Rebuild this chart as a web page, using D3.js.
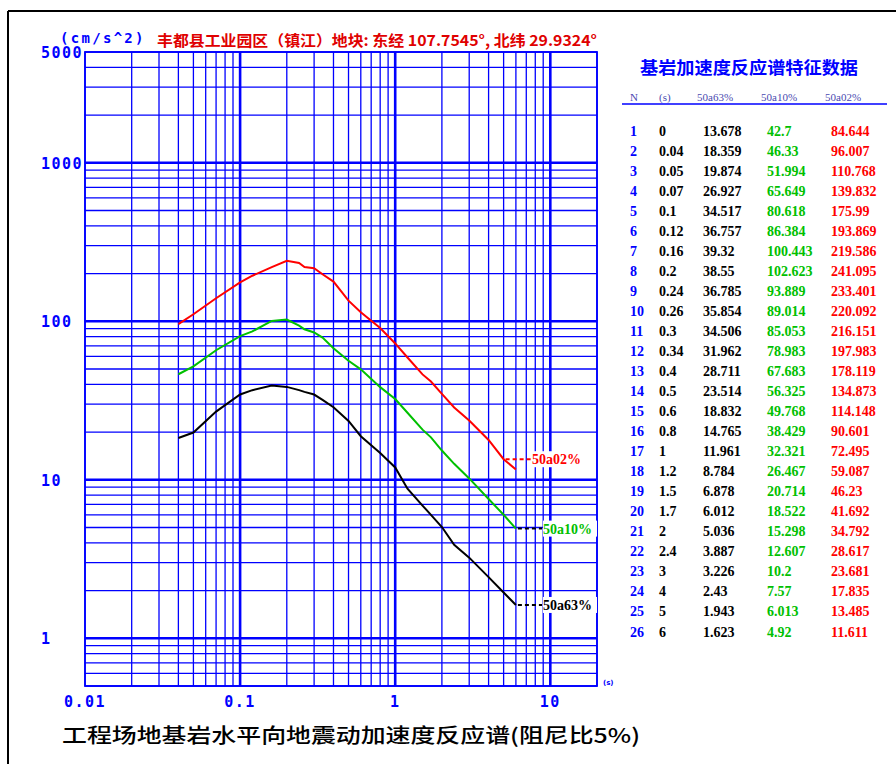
<!DOCTYPE html>
<html><head><meta charset="utf-8">
<script src="https://cdn.jsdelivr.net/npm/d3@7/dist/d3.min.js"></script>
<style>html,body{margin:0;padding:0;background:#fff;}svg{display:block;}</style>
</head><body>
<svg id="chart" width="896" height="764"></svg>
<script>
// ---------------- data ----------------
const rowNo   = [1,2,3,4,5,6,7,8,9,10,11,12,13,14,15,16,17,18,19,20,21,22,23,24,25,26];
const periods = ["0","0.04","0.05","0.07","0.1","0.12","0.16","0.2","0.24","0.26","0.3","0.34","0.4","0.5","0.6","0.8","1","1.2","1.5","1.7","2","2.4","3","4","5","6"];
const a63 = ["13.678","18.359","19.874","26.927","34.517","36.757","39.32","38.55","36.785","35.854","34.506","31.962","28.711","23.514","18.832","14.765","11.961","8.784","6.878","6.012","5.036","3.887","3.226","2.43","1.943","1.623"];
const a10 = ["42.7","46.33","51.994","65.649","80.618","86.384","100.443","102.623","93.889","89.014","85.053","78.983","67.683","56.325","49.768","38.429","32.321","26.467","20.714","18.522","15.298","12.607","10.2","7.57","6.013","4.92"];
const a02 = ["84.644","96.007","110.768","139.832","175.99","193.869","219.586","241.095","233.401","220.092","216.151","197.983","178.119","134.873","114.148","90.601","72.495","59.087","46.23","41.692","34.792","28.617","23.681","17.835","13.485","11.611"];
const seriesNames = ["50a63%","50a10%","50a02%"];
const headerLabels = ["N","(s)","50a63%","50a10%","50a02%"];
const xTickLabels = ["0.01","0.1","1","10"];
const yTickLabels = ["5000","1000","100","10","1"];
const unitLabel = "(cm/s^2)";
const titleText = "丰都县工业园区（镇江）地块: 东经 107.7545°, 北纬 29.9324°";
const tableTitle = "基岩加速度反应谱特征数据";
const caption = "工程场地基岩水平向地震动加速度反应谱(阻尼比5%)";
const xUnit = "(s)";

// ---------------- setup ----------------
const svg = d3.select("#chart");
const BLUE = "#0000ff";
const GREEN = "#00c000";
const RED = "#ff0000";
const x = d3.scaleLog().domain([0.01, 20]).range([85, 597]);
const y = d3.scaleLog().domain([0.5, 5000]).range([686, 52]);

// page border
svg.append("line").attr("x1",8).attr("x2",896).attr("y1",11).attr("y2",11).attr("stroke","#000").attr("stroke-width",2);
svg.append("line").attr("x1",8).attr("x2",8).attr("y1",11).attr("y2",764).attr("stroke","#000").attr("stroke-width",2);

// grid
const isMajor = v => Math.abs(Math.log10(v) - Math.round(Math.log10(v))) < 1e-9;
const g = svg.append("g");
x.ticks().forEach(v => {
  g.append("line").attr("x1",x(v)).attr("x2",x(v)).attr("y1",y.range()[1]).attr("y2",y.range()[0])
   .attr("stroke",BLUE).attr("stroke-width", isMajor(v) && v>0.01 ? 2.6 : 1.3);
});
y.ticks().forEach(v => {
  g.append("line").attr("x1",x.range()[0]).attr("x2",x.range()[1]).attr("y1",y(v)).attr("y2",y(v))
   .attr("stroke",BLUE).attr("stroke-width", isMajor(v) ? 2.6 : 1.3);
});
// frame
g.append("rect").attr("x",x.range()[0]).attr("y",y.range()[1]).attr("width",x.range()[1]-x.range()[0])
 .attr("height",y.range()[0]-y.range()[1]).attr("fill","none").attr("stroke",BLUE).attr("stroke-width",1.8);

// tick labels
const monoFont = "'DejaVu Sans Mono', monospace";
yTickLabels.forEach(t => {
  svg.append("text").attr("x",41).attr("y",y(+t)+6).text(t)
    .attr("font-family",monoFont).attr("font-weight","bold").attr("font-size",15)
    .attr("letter-spacing",1.5).attr("fill",BLUE);
});
xTickLabels.forEach(t => {
  svg.append("text").attr("x",x(+t)).attr("y",707).text(t).attr("text-anchor","middle")
    .attr("font-family",monoFont).attr("font-weight","bold").attr("font-size",15)
    .attr("letter-spacing",1.5).attr("fill",BLUE);
});
svg.append("text").attr("x",603).attr("y",685).text(xUnit).attr("font-family","'DejaVu Sans'")
  .attr("font-size",7).attr("font-weight","bold").attr("fill",BLUE);

// title
svg.append("text").attr("x",60).attr("y",43).text(unitLabel)
  .attr("font-family",monoFont).attr("font-weight","bold").attr("font-size",14)
  .attr("letter-spacing",2.3).attr("fill",BLUE);
svg.append("text").attr("x",157).attr("y",46).text(titleText)
  .attr("font-family","'Noto Sans CJK SC', sans-serif").attr("font-weight","bold").attr("font-size",15)
  .attr("textLength",440).attr("lengthAdjust","spacingAndGlyphs").attr("fill","#e00000");

// curves
const colors = ["#000000", GREEN, RED];
const leaderColors = ["#000000", "#000000", RED];
const series = [a63, a10, a02];
const line = d3.line().x(d => x(d[0])).y(d => y(d[1]));
series.forEach((s,i) => {
  const pts = periods.map((p,j) => [+p, +s[j]]).filter(d => d[0] > 0);
  svg.append("path").attr("d", line(pts)).attr("fill","none").attr("stroke",colors[i]).attr("stroke-width",2);
});

// curve labels with dashed leaders
const lastIdx = periods.length - 1;
const labelSpec = [
  {s:0, idx:lastIdx, lx:543},
  {s:1, idx:lastIdx, lx:543},
  {s:2, idx:lastIdx-1, lx:532}
];
labelSpec.forEach(L => {
  const px = x(+periods[L.idx]), py = y(+series[L.s][L.idx]);
  svg.append("rect").attr("x",L.lx).attr("y",py-8).attr("width",54).attr("height",16).attr("fill","#fff");
  svg.append("line").attr("x1",px+2).attr("x2",L.lx-1).attr("y1",py).attr("y2",py)
    .attr("stroke",leaderColors[L.s]).attr("stroke-width",2).attr("stroke-dasharray","4,3");
  svg.append("text").attr("x",L.lx).attr("y",py+5).text(seriesNames[L.s])
    .attr("font-family","'Liberation Serif', serif").attr("font-weight","bold").attr("font-size",14)
    .attr("fill",colors[L.s]);
});

// table
svg.append("text").attr("x",640).attr("y",74).text(tableTitle)
  .attr("font-family","'Noto Sans CJK SC', sans-serif").attr("font-weight","bold").attr("font-size",17)
  .attr("textLength",218).attr("lengthAdjust","spacingAndGlyphs").attr("fill",BLUE);
const colX = [630, 659, 703, 767, 831];
headerLabels.forEach((h,i) => {
  svg.append("text").attr("x",colX[i] + (i>=2 ? -6 : 0)).attr("y",101).text(h)
    .attr("font-family","'Liberation Serif', serif").attr("font-size",11).attr("fill","#4a4ab0");
});
svg.append("line").attr("x1",622).attr("x2",887).attr("y1",104).attr("y2",104).attr("stroke",BLUE).attr("stroke-width",1.5);
const cols = [rowNo, periods, a63, a10, a02];
const colColors = [BLUE, "#000", "#000", GREEN, RED];
rowNo.forEach((n,r) => {
  const yy = 136 + r*20.02;
  cols.forEach((c,i) => {
    svg.append("text").attr("x",colX[i]).attr("y",yy).text(c[r])
      .attr("font-family","'Liberation Serif', serif").attr("font-weight","bold").attr("font-size",14)
      .attr("fill",colColors[i]);
  });
});

// caption
svg.append("text").attr("x",62).attr("y",743).text(caption)
  .attr("font-family","'Noto Sans CJK SC', sans-serif").attr("font-size",20).attr("font-weight",500)
  .attr("textLength",578).attr("lengthAdjust","spacingAndGlyphs").attr("fill","#000");
</script>
</body></html>
